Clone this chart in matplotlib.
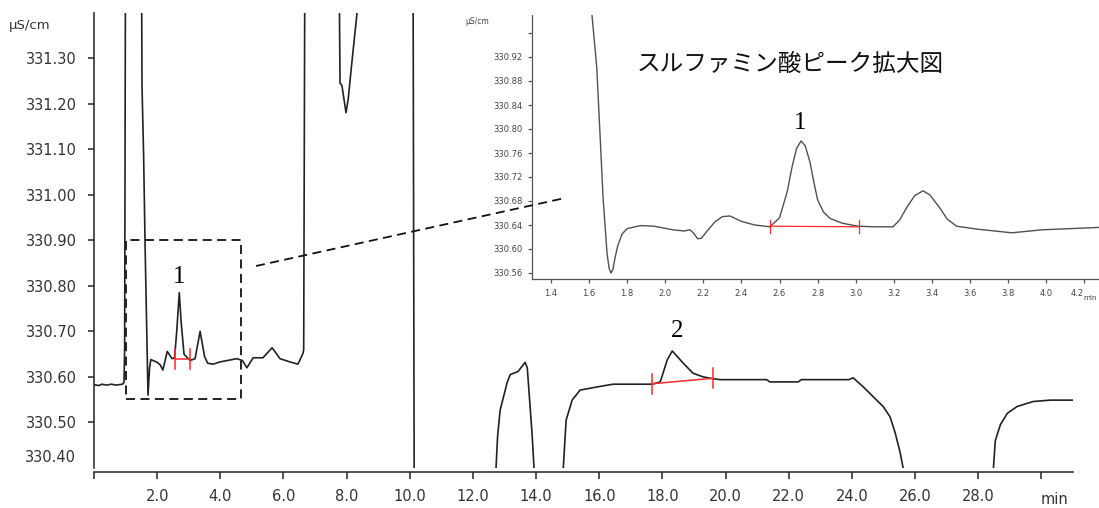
import matplotlib
matplotlib.use("Agg")
import matplotlib.pyplot as plt
from matplotlib.lines import Line2D
from matplotlib.patches import Rectangle

# ---- data ----
main_t = [0.00, 0.15, 0.25, 0.40, 0.55, 0.70, 0.90, 0.95, 0.97, 1.00,
          1.50, 1.52, 1.57, 1.62, 1.71, 1.76, 1.80, 2.00, 2.10, 2.18,
          2.32, 2.47, 2.55, 2.62, 2.70, 2.76, 2.85, 3.04, 3.20, 3.36,
          3.50, 3.60, 3.77, 4.00, 4.52, 4.70, 4.84, 5.04, 5.35, 5.64,
          5.89, 6.20, 6.46, 6.62, 6.64, 6.68,
          7.75, 7.79, 7.85, 7.98, 8.05, 8.15, 8.33, 8.40,
          10.10, 10.15, 12.70, 12.73, 12.78, 12.86, 13.08, 13.18, 13.43, 13.65,
          13.72, 13.87, 13.95, 14.00,
          14.80, 14.86, 14.95, 15.14, 15.39, 15.93, 16.44, 17.68, 17.93, 18.15,
          18.31, 18.66, 18.97, 19.29, 19.60, 19.83, 21.30, 21.40, 22.30, 22.40,
          23.90, 24.04, 24.36, 24.68, 24.99, 25.21, 25.37, 25.53, 25.62, 25.70,
          28.40, 28.48, 28.54, 28.70, 28.92, 29.23, 29.74, 30.28, 31.00]
main_y = [330.583, 330.581, 330.584, 330.582, 330.584, 330.582, 330.584, 330.588, 330.660, 331.600,
          331.600, 331.240, 331.090, 330.880, 330.560, 330.620, 330.638, 330.632, 330.626, 330.615,
          330.656, 330.640, 330.642, 330.700, 330.785, 330.720, 330.650, 330.636, 330.640, 330.700,
          330.645, 330.630, 330.628, 330.633, 330.640, 330.636, 330.620, 330.642, 330.642, 330.664,
          330.640, 330.633, 330.628, 330.652, 330.660, 331.600,
          331.600, 331.245, 331.240, 331.180, 331.210, 331.280, 331.400, 331.600,
          331.600, 330.000, 330.000, 330.400, 330.470, 330.527, 330.587, 330.605, 330.612, 330.632,
          330.620, 330.476, 330.380, 330.000,
          330.000, 330.400, 330.505, 330.549, 330.571, 330.578, 330.584, 330.584, 330.589, 330.637,
          330.657, 330.630, 330.608, 330.600, 330.596, 330.594, 330.594, 330.589, 330.589, 330.594,
          330.594, 330.598, 330.578, 330.556, 330.535, 330.512, 330.477, 330.433, 330.400, 330.000,
          330.000, 330.400, 330.460, 330.495, 330.520, 330.535, 330.546, 330.549, 330.549]

inset_t = [1.600, 1.615, 1.640, 1.657, 1.673, 1.694, 1.705, 1.715, 1.725, 1.736,
           1.750, 1.773, 1.800, 1.870, 1.940, 2.040, 2.100, 2.130, 2.150, 2.170,
           2.190, 2.220, 2.260, 2.300, 2.340, 2.400, 2.470, 2.550, 2.600, 2.640,
           2.666, 2.690, 2.713, 2.735, 2.760, 2.780, 2.800, 2.830, 2.865, 2.930,
           3.010, 3.100, 3.196, 3.230, 3.270, 3.310, 3.354, 3.390, 3.443, 3.480,
           3.530, 3.640, 3.820, 3.980, 4.280]
inset_y = [331.050, 330.990, 330.903, 330.793, 330.687, 330.593, 330.568, 330.560, 330.566, 330.585,
           330.605, 330.625, 330.634, 330.639, 330.638, 330.632, 330.630, 330.632, 330.626, 330.617,
           330.618, 330.630, 330.645, 330.654, 330.655, 330.646, 330.640, 330.637, 330.652, 330.695,
           330.737, 330.768, 330.780, 330.772, 330.745, 330.712, 330.682, 330.662, 330.651, 330.643,
           330.638, 330.637, 330.637, 330.648, 330.670, 330.689, 330.697, 330.690, 330.668, 330.650,
           330.638, 330.633, 330.627, 330.632, 330.636]

# integration baselines (start, end) for the marked peaks
peak1_t = [2.57, 3.04]
peak1_y = [330.640, 330.640]
peak2_t = [17.68, 19.60]
peak2_y = [330.585, 330.597]
inset_peak1_t = [2.55, 3.02]
inset_peak1_y = [330.638, 330.637]

main_xticks = [0, 2, 4, 6, 8, 10, 12, 14, 16, 18, 20, 22, 24, 26, 28, 30]
main_yticks = [330.5, 330.6, 330.7, 330.8, 330.9, 331.0, 331.1, 331.2, 331.3]
inset_xticks = [1.4, 1.6, 1.8, 2.0, 2.2, 2.4, 2.6, 2.8, 3.0, 3.2, 3.4, 3.6, 3.8, 4.0, 4.2]
inset_yticks = [330.56, 330.60, 330.64, 330.68, 330.72, 330.76, 330.80, 330.84, 330.88, 330.92, 330.96]

title_jp = "スルファミン酸ピーク拡大図"

LINE = "#222222"
AXC = "#333333"
RED = "#ff2a2a"

fig = plt.figure(figsize=(10.99, 5.08), dpi=100)

# ---- main chromatogram ----
ax = fig.add_axes([94 / 1099, 1 - 468 / 508, 979 / 1099, 455.5 / 508])
ax.plot(main_t, main_y, color=LINE, lw=1.2)
ax.set_xlim(0, 31)
ax.set_ylim(330.40, 331.40)

for s in ("top", "right"):
    ax.spines[s].set_visible(False)
for s in ("left", "bottom"):
    ax.spines[s].set_color(AXC)
    ax.spines[s].set_linewidth(1.2)
ax.spines["bottom"].set_position(("outward", 3))

ax.set_xticks(main_xticks)
ax.set_xticklabels(["" if v in (0, 30) else f"{v:.1f}" for v in main_xticks])
ax.set_yticks(main_yticks)
ax.set_yticklabels([f"{v:.2f}" for v in main_yticks])
ax.tick_params(axis="x", direction="out", length=5, width=1.2, color=AXC,
               labelsize=10.5, labelcolor=AXC, pad=7)
ax.tick_params(axis="y", direction="out", length=4.5, width=1.2, color=AXC,
               labelsize=10.5, labelcolor=AXC, pad=8)
ax.text(-0.018, 330.422, "330.40", transform=ax.get_yaxis_transform(),
        ha="right", va="center", fontsize=10.5, color=AXC)
fig.text(30 / 1099, 1 - 26 / 508, "μS/cm", ha="center", va="center", fontsize=9.5, color=AXC)
fig.text(1055 / 1099, 1 - 500 / 508, "min", ha="center", va="center", fontsize=10.5, color=AXC)

# integration markers
for tt, yy in ((peak1_t, peak1_y), (peak2_t, peak2_y)):
    ax.plot(tt, yy, color=RED, lw=1.1)
    for t0, y0 in zip(tt, yy):
        ax.plot([t0, t0], [y0 - 0.022, y0 + 0.022], color=RED, lw=1.1)

serif = ["Liberation Serif", "DejaVu Serif"]
ax.text(2.70, 330.82, "1", ha="center", va="center", fontsize=18, family=serif)
ax.text(18.47, 330.70, "2", ha="center", va="center", fontsize=18, family=serif)

# zoom box
ax.add_patch(Rectangle((1.01, 330.552), 3.65, 0.348, fill=False, ec="#111111",
                       lw=1.3, ls=(0, (5, 3))))

# ---- inset ----
ins = fig.add_axes([532 / 1099, 1 - 279 / 508, 567 / 1099, 264 / 508])
ins.set_facecolor("white")
ins.plot(inset_t, inset_y, color="#505050", lw=1.0)
ins.set_xlim(1.30, 4.278)
ins.set_ylim(330.55, 330.99)
for s in ("top", "right"):
    ins.spines[s].set_visible(False)
for s in ("left", "bottom"):
    ins.spines[s].set_color("#555555")
    ins.spines[s].set_linewidth(0.9)
ins.set_xticks(inset_xticks)
ins.set_xticklabels([f"{v:.1f}" for v in inset_xticks])
ins.set_yticks(inset_yticks)
ins.set_yticklabels(["" if abs(v - 330.96) < 1e-6 else f"{v:.2f}" for v in inset_yticks])
ins.tick_params(axis="both", direction="out", length=3, width=0.9, color="#555555",
                labelsize=6, labelcolor="#444444", pad=4)
# last label sits left of its tick, leaving room for the unit
ins.get_xticklabels()[-1].set_horizontalalignment("right")

ins.plot(inset_peak1_t, inset_peak1_y, color=RED, lw=0.9)
for t0, y0 in zip(inset_peak1_t, inset_peak1_y):
    ins.plot([t0, t0], [y0 - 0.011, y0 + 0.011], color=RED, lw=0.9)
ins.text(2.71, 330.81, "1", ha="center", va="center", fontsize=18, family=serif)

fig.text(790 / 1099, 1 - 64 / 508, title_jp, ha="center", va="center", fontsize=17,
         family=["Noto Sans CJK JP", "DejaVu Sans"], color="#111111")
fig.text(477 / 1099, 1 - 22 / 508, "μS/cm", ha="center", va="center", fontsize=5.5, color="#444444")
fig.text(1097 / 1099, 1 - 298 / 508, "min", ha="right", va="center", fontsize=5.2, color="#444444")

# leader line from the zoom box to the inset
fig.add_artist(Line2D([256 / 1099, 565 / 1099], [1 - 266 / 508, 1 - 198 / 508],
                      transform=fig.transFigure, color="#111111", lw=1.3,
                      ls=(0, (5, 3)), zorder=5))

fig.savefig("out.png", dpi=100)
